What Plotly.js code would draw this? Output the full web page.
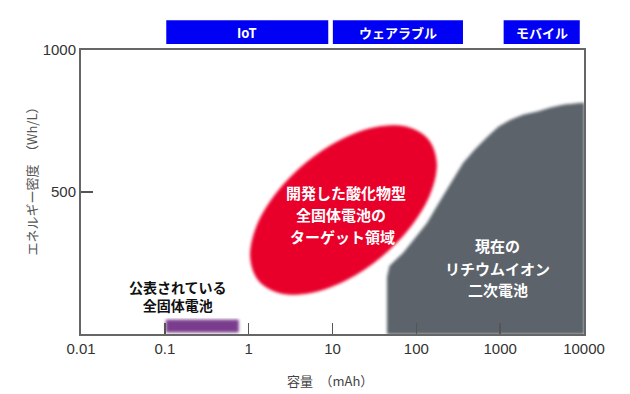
<!DOCTYPE html>
<html>
<head>
<meta charset="utf-8">
<script src="https://cdn.plot.ly/plotly-3.0.1.min.js"></script>
<style>
html,body{margin:0;padding:0;background:#fff;}
#chart{width:630px;height:394px;}
</style>
</head>
<body>
<div id="chart"></div>
<script>
// ---- data ----
const xTickVals = [0.01, 0.1, 1, 10, 100, 1000, 10000];
const xTickText = ['0.01', '0.1', '1', '10', '100', '1000', '10000'];
const yTickVals = [500, 1000];
const yTickText = ['500', '1000'];

// target region of the developed oxide all-solid-state battery (outline)
const targetX = [137.1, 172.6, 147.3, 87.3, 39.0, 14.79, 5.55, 2.39, 1.327, 1.057, 1.236, 2.084, 4.667, 12.33, 32.8, 76.4, 137.1];
const targetY = [685.5, 604.5, 498.2, 382.4, 274.6, 191.5, 146.1, 144.7, 187.7, 268.7, 375.0, 490.8, 598.6, 681.7, 727.1, 728.5, 685.5];

// current lithium-ion secondary batteries (outline)
const liionX = [45.3, 45.3, 48.5, 70.3, 97.8, 136, 179, 236, 294, 366, 510, 710, 960, 1334, 1909, 2805, 4010, 5741, 10000, 10000, 45.3];
const liionY = [0, 201, 240, 285, 338, 391, 451, 507, 556, 602, 651, 694, 729, 753, 771, 782, 796, 806, 813, 0, 0];

// published all-solid-state batteries (range)
const publishedX = [0.104, 0.75, 0.75, 0.104, 0.104];
const publishedY = [7, 7, 49, 49, 7];

// application segments on top
const segNames = ['IoT', 'ウェアラブル', 'モバイル'];
const segStart = [0.104, 10.1, 1100];
const segEnd = [8.9, 360, 8900];

// region labels
const targetLines = ['開発した酸化物型', '全固体電池の', 'ターゲット領域'];
const targetLineX = [14.5, 12.5, 13.0];
const targetLineY = [500, 420, 345];
const liionLines = ['現在の', 'リチウムイオン', '二次電池'];
const liionLineX = [930, 930, 930];
const liionLineY = [310, 232, 155];
const publishedLabel = '公表されている<br>全固体電池';
const publishedLabelX = 0.145;
const publishedLabelY = 134;

const xTitle = '容量　（mAh）';
const yTitle = 'エネルギー密度　（Wh/L）';

// ---- chart ----
const JP = '"Noto Sans CJK JP", "Liberation Sans", Arial, sans-serif';
const SANS = '"Liberation Sans", Arial, sans-serif';

const traces = [
  {
    x: liionX, y: liionY, type: 'scatter', mode: 'lines',
    fill: 'toself', fillcolor: '#5b636b',
    line: {color: '#5b636b', width: 1, shape: 'linear'},
    hoverinfo: 'skip', showlegend: false
  },
  {
    x: targetX, y: targetY, type: 'scatter', mode: 'lines',
    fill: 'toself', fillcolor: '#e8002b',
    line: {color: '#e8002b', width: 1, shape: 'spline', smoothing: 1.0},
    hoverinfo: 'skip', showlegend: false
  },
  {
    x: publishedX, y: publishedY, type: 'scatter', mode: 'lines',
    fill: 'toself', fillcolor: '#7a3c8e',
    line: {color: '#7a3c8e', width: 1},
    hoverinfo: 'skip', showlegend: false
  }
];

const shapes = segNames.map((n, i) => ({
  type: 'rect', xref: 'x', yref: 'paper',
  x0: segStart[i], x1: segEnd[i], y0: 1.021, y1: 1.105,
  fillcolor: '#0000f5', line: {width: 0}, layer: 'above'
}));

const annotations = [];
segNames.forEach((n, i) => {
  annotations.push({
    xref: 'x', yref: 'paper',
    x: (Math.log10(segStart[i]) + Math.log10(segEnd[i])) / 2, y: 1.063,
    text: '<b>' + n + '</b>', showarrow: false,
    font: {family: JP, size: 13, color: '#ffffff'},
    xanchor: 'center', yanchor: 'middle'
  });
});
targetLines.forEach((t, i) => {
  annotations.push({
    xref: 'x', yref: 'y', x: Math.log10(targetLineX[i]), y: targetLineY[i],
    text: '<b>' + t + '</b>', showarrow: false,
    font: {family: JP, size: 15, color: '#ffffff'},
    xanchor: 'center', yanchor: 'middle'
  });
});
liionLines.forEach((t, i) => {
  annotations.push({
    xref: 'x', yref: 'y', x: Math.log10(liionLineX[i]), y: liionLineY[i],
    text: '<b>' + t + '</b>', showarrow: false,
    font: {family: JP, size: 15, color: '#ffffff'},
    xanchor: 'center', yanchor: 'middle'
  });
});
annotations.push({
  xref: 'x', yref: 'y', x: Math.log10(publishedLabelX), y: publishedLabelY,
  text: '<b>' + publishedLabel + '</b>', showarrow: false,
  font: {family: JP, size: 14, color: '#111111'},
  xanchor: 'center', yanchor: 'middle', align: 'center'
});
annotations.push({
  xref: 'paper', yref: 'paper', x: 0.496, y: -0.165,
  text: xTitle, showarrow: false,
  font: {family: JP, size: 13, color: '#444444'},
  xanchor: 'center', yanchor: 'middle'
});
annotations.push({
  xref: 'paper', yref: 'paper', x: -0.098, y: 0.55,
  text: yTitle, showarrow: false, textangle: -90,
  font: {family: JP, size: 13, color: '#555555'},
  xanchor: 'center', yanchor: 'middle'
});

const layout = {
  width: 630, height: 394,
  margin: {l: 81, r: 46, t: 50, b: 60, pad: 0},
  paper_bgcolor: '#ffffff', plot_bgcolor: '#ffffff',
  showlegend: false,
  xaxis: {
    type: 'log', range: [-2, 4], fixedrange: true,
    tickvals: xTickVals, ticktext: xTickText,
    ticks: 'inside', ticklen: 11, tickwidth: 1.5, tickcolor: '#555555',
    showline: true, linecolor: '#666666', linewidth: 2, mirror: true,
    showgrid: false, zeroline: false,
    tickfont: {family: SANS, size: 15, color: '#333333'}
  },
  yaxis: {
    range: [0, 1000], fixedrange: true,
    tickvals: yTickVals, ticktext: yTickText,
    ticks: 'inside', ticklen: 12, tickwidth: 1.5, tickcolor: '#555555',
    showline: true, linecolor: '#666666', linewidth: 2, mirror: true,
    showgrid: false, zeroline: false,
    tickfont: {family: SANS, size: 15, color: '#333333'}
  },
  shapes: shapes,
  annotations: annotations
};

Plotly.newPlot('chart', traces, layout, {displayModeBar: false, staticPlot: true}).then(gd => {
  // soften the region edges like the reference
  const svg = gd.querySelector('svg.main-svg');
  const NS = 'http://www.w3.org/2000/svg';
  let defs = svg.querySelector('defs');
  if (!defs) { defs = document.createElementNS(NS, 'defs'); svg.insertBefore(defs, svg.firstChild); }
  const f = document.createElementNS(NS, 'filter');
  f.setAttribute('id', 'softEdge');
  f.setAttribute('x', '-10%'); f.setAttribute('y', '-10%');
  f.setAttribute('width', '120%'); f.setAttribute('height', '120%');
  const b = document.createElementNS(NS, 'feGaussianBlur');
  b.setAttribute('stdDeviation', '1.6');
  f.appendChild(b);
  defs.appendChild(f);
  gd.querySelectorAll('.scatterlayer .trace').forEach(t => t.setAttribute('filter', 'url(#softEdge)'));
});
</script>
</body>
</html>
